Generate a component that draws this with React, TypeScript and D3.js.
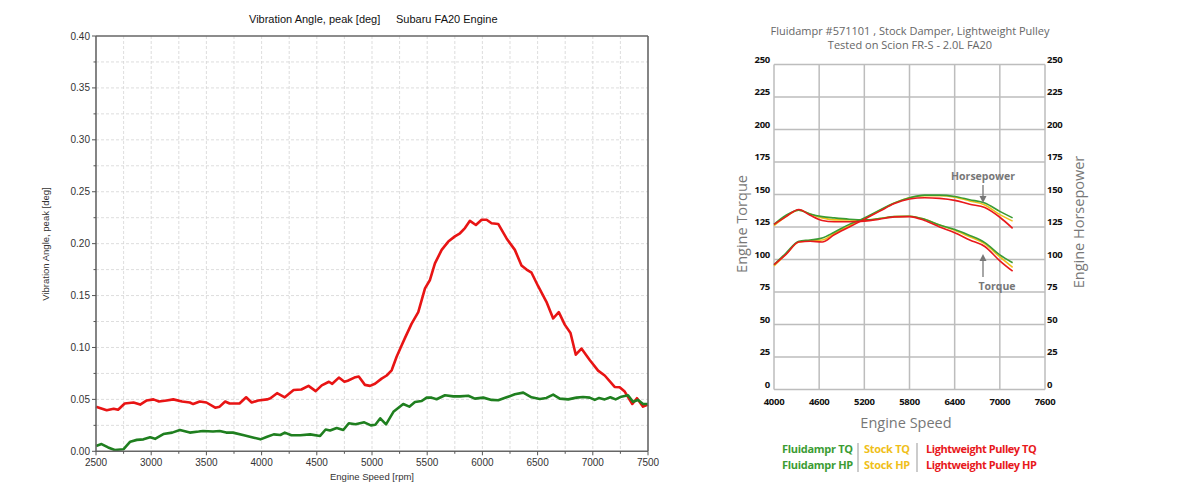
import React from 'react';
import * as d3 from 'd3';

// ---------- Left chart data (Vibration angle vs engine speed) ----------
const leftRedSeries: [number, number][] = [
  [2500, 0.043], [2597, 0.0395], [2660, 0.041], [2700, 0.040], [2760, 0.046], [2840, 0.047],
  [2900, 0.045], [2960, 0.049], [3020, 0.050], [3070, 0.048], [3140, 0.049], [3200, 0.050],
  [3280, 0.048], [3350, 0.047], [3380, 0.0455], [3440, 0.048], [3500, 0.047], [3580, 0.042],
  [3620, 0.043], [3670, 0.048], [3710, 0.046], [3800, 0.046], [3860, 0.052], [3910, 0.047],
  [3970, 0.049], [4050, 0.050], [4080, 0.051], [4140, 0.056], [4210, 0.052], [4290, 0.059],
  [4360, 0.0595], [4425, 0.063], [4490, 0.058], [4545, 0.0635], [4610, 0.067], [4640, 0.065],
  [4700, 0.071], [4750, 0.067], [4780, 0.068], [4840, 0.071], [4880, 0.072], [4936, 0.064],
  [4982, 0.063], [5027, 0.065], [5087, 0.070], [5133, 0.073], [5178, 0.078], [5223, 0.091],
  [5268, 0.102], [5298, 0.109], [5359, 0.123], [5419, 0.134], [5480, 0.157], [5525, 0.165],
  [5570, 0.181], [5631, 0.194], [5691, 0.202], [5751, 0.207], [5797, 0.210], [5842, 0.215],
  [5887, 0.222], [5941, 0.218], [5993, 0.223], [6038, 0.223], [6083, 0.2196], [6143, 0.219],
  [6219, 0.205], [6294, 0.194], [6354, 0.179], [6400, 0.175], [6445, 0.172], [6505, 0.159],
  [6580, 0.144], [6641, 0.128], [6692, 0.134], [6746, 0.122], [6798, 0.114], [6846, 0.093],
  [6897, 0.099], [6972, 0.088], [7048, 0.0777], [7108, 0.073], [7198, 0.062], [7243, 0.0617],
  [7289, 0.0575], [7358, 0.0456], [7400, 0.0511], [7455, 0.043], [7500, 0.045],
];

const leftGreenSeries: [number, number][] = [
  [2500, 0.0051], [2550, 0.007], [2610, 0.0037], [2670, 0.0013], [2750, 0.002], [2810, 0.0093],
  [2870, 0.011], [2930, 0.0115], [2990, 0.0135], [3035, 0.012], [3110, 0.0166], [3190, 0.018],
  [3260, 0.0205], [3350, 0.018], [3430, 0.019], [3470, 0.0196], [3560, 0.019], [3620, 0.0196],
  [3680, 0.018], [3740, 0.018], [3840, 0.0155], [3930, 0.0131], [3990, 0.0115], [4050, 0.014],
  [4110, 0.0163], [4170, 0.0157], [4210, 0.018], [4270, 0.0155], [4350, 0.0155], [4440, 0.0163],
  [4530, 0.0148], [4580, 0.021], [4620, 0.020], [4680, 0.0225], [4740, 0.0205], [4790, 0.027],
  [4850, 0.026], [4930, 0.0279], [4990, 0.025], [5030, 0.0255], [5075, 0.0318], [5127, 0.026],
  [5194, 0.038], [5283, 0.0456], [5338, 0.043], [5389, 0.0475], [5450, 0.0484], [5495, 0.0517],
  [5540, 0.0517], [5585, 0.0501], [5661, 0.054], [5736, 0.0529], [5797, 0.0529], [5872, 0.0535],
  [5932, 0.0507], [6008, 0.0517], [6083, 0.0495], [6143, 0.0491], [6219, 0.052], [6294, 0.0549],
  [6370, 0.0565], [6445, 0.052], [6520, 0.0504], [6580, 0.0514], [6641, 0.0546], [6701, 0.0507],
  [6777, 0.050], [6852, 0.0517], [6912, 0.0523], [6972, 0.0517], [7018, 0.0495], [7057, 0.0514],
  [7108, 0.050], [7159, 0.052], [7207, 0.050], [7258, 0.0526], [7319, 0.054], [7364, 0.0478],
  [7410, 0.0495], [7455, 0.0456], [7500, 0.0456],
];

const leftXTicks = [2500, 3000, 3500, 4000, 4500, 5000, 5500, 6000, 6500, 7000, 7500];
const leftXMinor = [2750, 3250, 3750, 4250, 4750, 5250, 5750, 6250, 6750, 7250];
const leftYTicks = [0, 0.05, 0.1, 0.15, 0.2, 0.25, 0.3, 0.35, 0.4];
const leftYMinor = [0.025, 0.075, 0.125, 0.175, 0.225, 0.275, 0.325, 0.375];

// ---------- Right chart data (dyno) ----------
const dynoRpm = [4000, 4160, 4330, 4480, 4640, 4800, 5000, 5200, 5400, 5600, 5800, 6000, 6200, 6400, 6600, 6800, 7000, 7170];
const stockTQ = [126, 133, 138, 135, 132, 130.5, 130.5, 130, 131.5, 133, 133.3, 131, 126.5, 122.5, 117.5, 112, 102, 94];
const stockHP = [95, 104, 113.5, 114.5, 115, 120, 126, 131.5, 137.5, 143.5, 147.5, 149, 149, 148, 145, 142, 134.5, 129.5];
const fluidTQ = [127, 134, 138, 135, 133, 132, 131, 130.5, 131.5, 133, 133.3, 131, 126.5, 123, 118.5, 113, 103.5, 97.5];
const fluidHP = [96, 105, 114, 115, 116.5, 121, 127, 132, 138, 143.5, 147.5, 149.5, 149.5, 148.5, 146, 143.5, 137, 132];
const pulleyTQ = [127, 133, 138.5, 134, 130, 129, 129, 129.5, 131, 132.8, 133, 130, 125, 120.5, 115, 110, 99, 91];
const pulleyHP = [96, 104, 113.5, 114, 113.5, 119, 125, 131, 137, 143, 146.5, 147.5, 147, 145.5, 142.5, 140, 132.5, 124];

const dynoXTicks = [4000, 4600, 5200, 5800, 6400, 7000, 7600];
const dynoYTicks = [0, 25, 50, 75, 100, 125, 150, 175, 200, 225, 250];

const GREEN = '#3b9c33';
const YELLOW = '#f0bf1a';
const RED = '#e8191c';

export default function App() {
  // Left chart scales
  const lx = d3.scaleLinear().domain([2500, 7500]).range([96, 648]);
  const ly = d3.scaleLinear().domain([0, 0.4]).range([451.3, 36]);
  const lline = d3
    .line<[number, number]>()
    .x((d) => lx(d[0]))
    .y((d) => ly(d[1]));

  // Right chart scales
  const rx = d3.scaleLinear().domain([4000, 7600]).range([774, 1045]);
  const ry = d3.scaleLinear().domain([0, 250]).range([389.5, 64.5]);
  const rline = (vals: number[]) =>
    d3
      .line<number>()
      .x((_, i) => rx(dynoRpm[i]))
      .y((d) => ry(d))
      .curve(d3.curveMonotoneX)(vals) || '';

  const lf = "'Liberation Sans', Arial, sans-serif";
  const rf = "'Open Sans', 'Noto Sans', sans-serif";

  const dynoSeries = [
    { v: stockTQ, c: YELLOW },
    { v: stockHP, c: YELLOW },
    { v: fluidTQ, c: GREEN },
    { v: fluidHP, c: GREEN },
    { v: pulleyTQ, c: RED },
    { v: pulleyHP, c: RED },
  ];

  return (
    <svg
      width={1200}
      height={500}
      viewBox="0 0 1200 500"
      style={{ position: 'absolute', left: 0, top: 0, background: '#fff' }}
    >
      <rect x={0} y={0} width={1200} height={500} fill="#fff" />

      {/* ================= LEFT CHART ================= */}
      <g>
        {/* grid */}
        {[...leftXTicks.slice(1, -1), ...leftXMinor].map((t) => (
          <line key={'lgx' + t} x1={lx(t)} x2={lx(t)} y1={ly(0.4)} y2={ly(0)} stroke="#d4d4d4" strokeWidth={0.8} strokeDasharray="3,2" />
        ))}
        {[...leftYTicks.slice(1, -1), ...leftYMinor].map((t) => (
          <line key={'lgy' + t} x1={lx(2500)} x2={lx(7500)} y1={ly(t)} y2={ly(t)} stroke="#d4d4d4" strokeWidth={0.8} strokeDasharray="3,2" />
        ))}

        {/* series */}
        <path d={lline(leftRedSeries) || ''} fill="none" stroke="#e81414" strokeWidth={2.6} strokeLinejoin="round" />
        <path d={lline(leftGreenSeries) || ''} fill="none" stroke="#1f7f1f" strokeWidth={2.6} strokeLinejoin="round" />

        {/* frame */}
        <line x1={lx(2500)} x2={lx(7500)} y1={ly(0.4)} y2={ly(0.4)} stroke="#666" strokeWidth={1.6} />
        <line x1={lx(7500)} x2={lx(7500)} y1={ly(0.4)} y2={ly(0)} stroke="#666" strokeWidth={1.6} />
        <line x1={lx(2500)} x2={lx(2500)} y1={ly(0.4)} y2={ly(0)} stroke="#666" strokeWidth={1.6} />
        <line x1={lx(2500)} x2={lx(7500)} y1={ly(0)} y2={ly(0)} stroke="#666" strokeWidth={1.6} />

        {/* y ticks */}
        {leftYTicks.map((t) => (
          <g key={'lyt' + t}>
            <line x1={lx(2500) - 4} x2={lx(2500)} y1={ly(t)} y2={ly(t)} stroke="#555" strokeWidth={1} />
            <text x={lx(2500) - 6} y={ly(t)} dy="0.35em" textAnchor="end" fontFamily={lf} fontSize={10} fill="#333">
              {t.toFixed(2)}
            </text>
          </g>
        ))}
        {leftYMinor.map((t) => (
          <line key={'lym' + t} x1={lx(2500) - 2.5} x2={lx(2500)} y1={ly(t)} y2={ly(t)} stroke="#555" strokeWidth={1} />
        ))}
        {/* x ticks */}
        {leftXTicks.map((t) => (
          <g key={'lxt' + t}>
            <line x1={lx(t)} x2={lx(t)} y1={ly(0)} y2={ly(0) + 4} stroke="#555" strokeWidth={1} />
            <text x={lx(t)} y={ly(0) + 15} textAnchor="middle" fontFamily={lf} fontSize={10} fill="#333">
              {t}
            </text>
          </g>
        ))}
        {leftXMinor.map((t) => (
          <line key={'lxm' + t} x1={lx(t)} x2={lx(t)} y1={ly(0)} y2={ly(0) + 2.5} stroke="#555" strokeWidth={1} />
        ))}

        {/* labels */}
        <text x={249} y={23} fontFamily={lf} fontSize={11} fill="#111">
          Vibration Angle, peak [deg]
        </text>
        <text x={396} y={23} fontFamily={lf} fontSize={11} fill="#111">
          Subaru FA20 Engine
        </text>
        <text x={372} y={480} textAnchor="middle" fontFamily={lf} fontSize={9.5} fill="#333">
          Engine Speed [rpm]
        </text>
        <text
          transform="translate(49,244) rotate(-90)"
          textAnchor="middle"
          fontFamily={lf}
          fontSize={9.5}
          fill="#333"
        >
          Vibration Angle, peak [deg]
        </text>
      </g>

      {/* ================= RIGHT CHART ================= */}
      <g>
        {/* titles */}
        <text x={910} y={35} textAnchor="middle" fontFamily={rf} fontSize={11} fill="#666">
          Fluidampr #571101 , Stock Damper, Lightweight Pulley
        </text>
        <text x={910} y={49} textAnchor="middle" fontFamily={rf} fontSize={11} fill="#666">
          Tested on Scion FR-S - 2.0L FA20
        </text>

        {/* grid */}
        {dynoYTicks.map((t) => (
          <line key={'rgy' + t} x1={rx(4000)} x2={rx(7600)} y1={ry(t)} y2={ry(t)} stroke="#bdbdbd" strokeWidth={1.5} />
        ))}
        {dynoXTicks.map((t) => (
          <line key={'rgx' + t} x1={rx(t)} x2={rx(t)} y1={ry(250)} y2={ry(0)} stroke="#bdbdbd" strokeWidth={1.5} />
        ))}

        {/* y tick labels */}
        {dynoYTicks.map((t) => (
          <g key={'ryt' + t}>
            <text x={770} y={ry(t) - 2} textAnchor="end" fontFamily={rf} fontWeight={700} fontSize={9.5} fill="#111" letterSpacing={-0.3}>
              {t}
            </text>
            <text x={1047} y={ry(t) - 2} textAnchor="start" fontFamily={rf} fontWeight={700} fontSize={9.5} fill="#111" letterSpacing={-0.3}>
              {t}
            </text>
          </g>
        ))}
        {/* x tick labels */}
        {dynoXTicks.map((t) => (
          <text key={'rxt' + t} x={rx(t)} y={404.5} textAnchor="middle" fontFamily={rf} fontWeight={700} fontSize={9.5} fill="#111" letterSpacing={-0.3}>
            {t}
          </text>
        ))}

        {/* curves */}
        {dynoSeries.map((s, i) => (
          <path key={'dyn' + i} d={rline(s.v)} fill="none" stroke={s.c} strokeWidth={1.6} strokeLinejoin="round" />
        ))}

        {/* annotations */}
        <text x={983} y={179.5} textAnchor="middle" fontFamily={rf} fontWeight={700} fontSize={10.5} fill="#777">
          Horsepower
        </text>
        <line x1={983} x2={983} y1={185} y2={198} stroke="#777" strokeWidth={1.3} />
        <path d="M979.5,196 L986.5,196 L983,203 Z" fill="#777" />
        <text x={997} y={290} textAnchor="middle" fontFamily={rf} fontWeight={700} fontSize={10.5} fill="#777">
          Torque
        </text>
        <line x1={983} x2={983} y1={259} y2={277} stroke="#777" strokeWidth={1.3} />
        <path d="M979.5,261 L986.5,261 L983,254 Z" fill="#777" />

        {/* axis titles */}
        <text x={906} y={428} textAnchor="middle" fontFamily={rf} fontSize={14.5} fill="#777">
          Engine Speed
        </text>
        <text transform="translate(747,224) rotate(-90)" textAnchor="middle" fontFamily={rf} fontSize={14.5} fill="#777">
          Engine Torque
        </text>
        <text transform="translate(1084,222) rotate(-90)" textAnchor="middle" fontFamily={rf} fontSize={14.5} fill="#777">
          Engine Horsepower
        </text>

        {/* legend */}
        <g fontFamily={rf} fontWeight={700} fontSize={11} letterSpacing={-0.3}>
          <text x={782} y={453} fill={GREEN}>Fluidampr TQ</text>
          <text x={782} y={469} fill={GREEN}>Fluidampr HP</text>
          <text x={864} y={453} fill={YELLOW}>Stock TQ</text>
          <text x={864} y={469} fill={YELLOW}>Stock HP</text>
          <text x={926} y={453} fill={RED} letterSpacing={-0.45}>Lightweight Pulley TQ</text>
          <text x={926} y={469} fill={RED} letterSpacing={-0.45}>Lightweight Pulley HP</text>
        </g>
        <line x1={858} x2={858} y1={443} y2={472} stroke="#aaa" strokeWidth={1.2} />
        <line x1={917} x2={917} y1={443} y2={472} stroke="#aaa" strokeWidth={1.2} />
      </g>
    </svg>
  );
}
